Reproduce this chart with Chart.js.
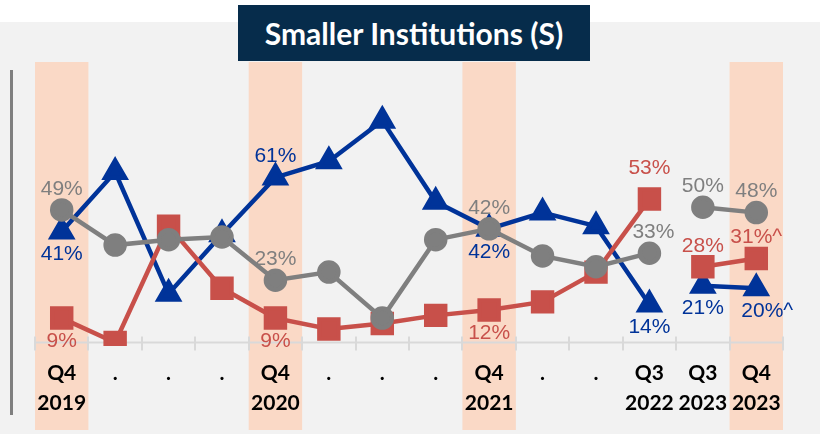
<!DOCTYPE html>
<html>
<head>
<meta charset="utf-8">
<script src="https://cdn.jsdelivr.net/npm/chart.js@4.4.1/dist/chart.umd.min.js"></script>
<style>
  html, body { margin: 0; padding: 0; background: #fff; }
  #wrap { position: relative; width: 820px; height: 434px; overflow: hidden; }
  #panel { position: absolute; left: 0; top: 22px; width: 820px; height: 412px; background: #f2f2f2; }
  #vline { position: absolute; left: 10px; top: 70px; width: 3px; height: 345px; background: #7f7f7f; }
  #title {
    position: absolute; left: 238px; top: 5px; width: 352px; height: 56px; z-index: 2;
    background: #062c4b; color: #fff; font: bold 30px Lato, sans-serif;
    display: flex; align-items: center; justify-content: center;
  }
  canvas { position: absolute; left: 0; top: 0; }
</style>
</head>
<body>
<div id="wrap">
  <div id="panel"></div>
  <div id="vline"></div>
  <canvas id="chart" width="820" height="434"></canvas>
  <div id="title">Smaller Institutions (S)</div>
</div>
<script>
// Quarter labels (only the year-end / latest quarters are named)
const categories = [
  ['Q4', '2019'], '.', '.', '.', ['Q4', '2020'], '.', '.', '.',
  ['Q4', '2021'], '.', '.', ['Q3', '2022'], ['Q3', '2023'], ['Q4', '2023']
];
const shadedQuarters = [0, 4, 8, 13];

// % of respondents
const greyValues = [49, 36, 38, 39, 23, 26, 9, 38, 42, 32, 28, 33, 50, 48];
const redValues  = [9, 0, 43, 20, 9, 5, 7, 10, 12, 15, 26, 53, 28, 31];
const blueValues = [41, 63, 18, 40, 61, 67, 82, 52, 42, 48, 43, 14, 21, 20];

const greyLabels = ['49%', null, null, null, '23%', null, null, null, '42%', null, null, '33%', '50%', '48%'];
const redLabels  = ['9%', null, null, null, '9%', null, null, null, '12%', null, null, '53%', '28%', '31%^'];
const blueLabels = ['41%', null, null, null, '61%', null, null, null, '42%', null, null, '14%', '21%', '20%^'];

const GREY = '#7f7f7f', RED = '#c8504a', BLUE = '#003399';
const BREAK_AFTER = 11; // no line between Q3 2022 and Q3 2023

// where each value label sits relative to its marker
const redAbove = [11, 12, 13];
const blueAbove = [4];
const nudge = { 'grey-11': [4, 0], 'red-11': [0, -10], 'blue-13': [11, 0] };

function series(key, label, values, labels, color, style, radius, above) {
  return {
    key, label, data: values, valueLabels: labels, above,
    borderColor: color, backgroundColor: color,
    pointBackgroundColor: color, pointBorderColor: color,
    pointStyle: style, pointRadius: radius, pointHoverRadius: radius,
    borderWidth: 4.5, tension: 0,
    segment: { borderColor: c => c.p0DataIndex === BREAK_AFTER ? 'transparent' : color }
  };
}

const decor = {
  id: 'decor',
  beforeDraw(chart) {
    const { ctx, scales: { x } } = chart;
    const w = x.width / categories.length;
    ctx.save();
    ctx.fillStyle = '#fad9c6';
    for (const i of shadedQuarters) {
      const px = x.getPixelForValue(i);
      ctx.fillRect(px - w / 2, 62, w, chart.height - 4 - 62);
    }
    ctx.restore();
  },
  // zero line with short category dividers crossing it
  beforeDatasetsDraw(chart) {
    const { ctx, scales: { x, y } } = chart;
    const y0 = y.getPixelForValue(0);
    const w = x.width / categories.length;
    ctx.save();
    ctx.strokeStyle = '#d9d9d9';
    ctx.lineWidth = 2;
    ctx.beginPath();
    ctx.moveTo(x.left, y0);
    ctx.lineTo(x.right, y0);
    for (let i = 0; i <= categories.length; i++) {
      const px = Math.round(x.left + i * w);
      ctx.moveTo(px, y0 - 6);
      ctx.lineTo(px, y0 + 8);
    }
    ctx.stroke();
    ctx.restore();
  },
  afterDatasetsDraw(chart) {
    const { ctx } = chart;
    ctx.save();
    ctx.font = '21px "Liberation Sans", Arial, sans-serif';
    ctx.textAlign = 'center';
    ctx.textBaseline = 'middle';
    chart.data.datasets.forEach((ds, di) => {
      const meta = chart.getDatasetMeta(di);
      ds.valueLabels.forEach((txt, i) => {
        if (!txt) return;
        const pt = meta.data[i];
        const up = ds.above === 'all' || ds.above.includes(i);
        const [dx, dy] = nudge[ds.key + '-' + i] || [0, 0];
        ctx.fillStyle = ds.borderColor;
        ctx.fillText(txt, pt.x + dx, pt.y + (up ? -21 : 23) + dy);
      });
    });
    ctx.restore();
  }
};

new Chart(document.getElementById('chart'), {
  type: 'line',
  data: {
    labels: categories,
    datasets: [
      series('grey', 'Grey', greyValues, greyLabels, GREY, 'circle', 9.5, 'all'),
      series('red', 'Red', redValues, redLabels, RED, 'rect', 13.4, redAbove),
      series('blue', 'Blue', blueValues, blueLabels, BLUE, 'triangle', 11.5, blueAbove)
    ]
  },
  options: {
    responsive: false,
    animation: false,
    layout: { padding: { left: 35, right: 37, top: 72, bottom: 18 } },
    plugins: { legend: { display: false }, tooltip: { enabled: false }, title: { display: false } },
    scales: {
      y: { display: false, min: -1.3, max: 100 },
      x: {
        offset: true,
        border: { display: false },
        grid: { display: true, offset: true, drawOnChartArea: false, drawTicks: true, tickLength: 14, color: 'transparent' },
        ticks: {
          autoSkip: false, maxRotation: 0, padding: -2, color: '#000',
          font: { family: 'Lato', size: 21, weight: 'bold', lineHeight: 1.43 }
        }
      }
    }
  },
  plugins: [decor]
});
</script>
</body>
</html>
